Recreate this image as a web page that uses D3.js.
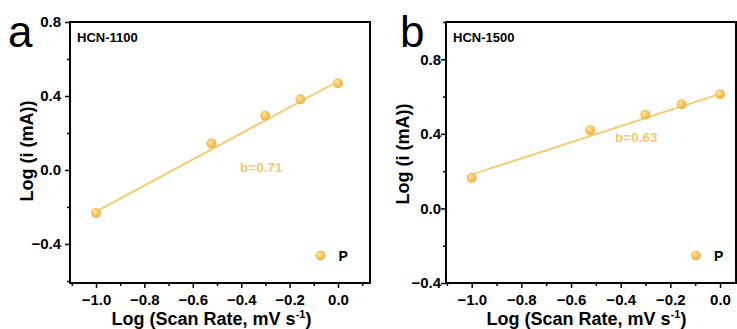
<!DOCTYPE html>
<html>
<head>
<meta charset="utf-8">
<script src="https://cdn.jsdelivr.net/npm/d3@7"></script>
<style>
  body { margin: 0; background: #fff; }
  svg { display: block; }
  text { font-family: "Liberation Sans", Arial, sans-serif; }
</style>
</head>
<body>
<div id="chart"></div>
<script>
// datos
const logScanRate = [-1.0, -0.523, -0.301, -0.155, 0.0];
const logI1100 = [-0.232, 0.144, 0.294, 0.382, 0.469];
const logI1500 = [0.164, 0.420, 0.503, 0.559, 0.613];
// recta de ajuste: valor en x = -1 y en x = 0
const fitX = [-1.0, 0.0];
const fit1100 = [-0.225, 0.480];
const fit1500 = [0.182, 0.615];
const xTicks = [-1.0, -0.8, -0.6, -0.4, -0.2, 0.0];
const xMinor = [-1.1, -0.9, -0.7, -0.5, -0.3, -0.1, 0.1];
const yTicks = [-0.4, 0.0, 0.4, 0.8];
const yMinor1100 = [-0.6, -0.2, 0.2, 0.6];
const yMinor1500 = [-0.2, 0.2, 0.6, 1.0];

const orange = '#f7c25a';
const lineColor = '#f8c96c';
const fmt = d3.format('.1f');

const svg = d3.select('#chart')
  .append('svg')
  .attr('width', 737)
  .attr('height', 329);

// gradiente tipo esfera para los puntos
const grad = svg.append('defs').append('radialGradient')
  .attr('id', 'ball')
  .attr('cx', '40%').attr('cy', '38%').attr('r', '65%');
grad.append('stop').attr('offset', '0%').attr('stop-color', '#ffe9b4');
grad.append('stop').attr('offset', '45%').attr('stop-color', '#f9c761');
grad.append('stop').attr('offset', '100%').attr('stop-color', '#eeb144');

function drawPanel(p) {
  const x = d3.scaleLinear().domain(p.xDomain).range([p.left, p.right]);
  const y = d3.scaleLinear().domain(p.yDomain).range([p.bottom, p.top]);
  const g = svg.append('g');

  // eje X
  g.append('g')
    .attr('transform', `translate(0,${p.bottom})`)
    .call(d3.axisBottom(x).tickValues(xTicks).tickSize(5).tickPadding(6).tickFormat(fmt))
    .call(a => a.select('.domain').remove())
    .call(a => a.selectAll('line').attr('stroke', '#000').attr('stroke-width', 1.5))
    .call(a => a.selectAll('text')
      .attr('fill', '#000').style('font-size', '15px').style('font-weight', 'bold'));
  g.append('g')
    .attr('transform', `translate(0,${p.bottom})`)
    .call(d3.axisBottom(x).tickValues(xMinor).tickSize(3).tickFormat(''))
    .call(a => a.select('.domain').remove())
    .call(a => a.selectAll('line').attr('stroke', '#000').attr('stroke-width', 1.5));

  // eje Y
  g.append('g')
    .attr('transform', `translate(${p.left},0)`)
    .call(d3.axisLeft(y).tickValues(yTicks).tickSize(5).tickPadding(p.yPad).tickFormat(fmt))
    .call(a => a.select('.domain').remove())
    .call(a => a.selectAll('line').attr('stroke', '#000').attr('stroke-width', 1.5))
    .call(a => a.selectAll('text')
      .attr('fill', '#000').style('font-size', '15px').style('font-weight', 'bold'));
  g.append('g')
    .attr('transform', `translate(${p.left},0)`)
    .call(d3.axisLeft(y).tickValues(p.yMinor).tickSize(3).tickFormat(''))
    .call(a => a.select('.domain').remove())
    .call(a => a.selectAll('line').attr('stroke', '#000').attr('stroke-width', 1.5));

  // marco
  g.append('rect')
    .attr('x', p.left).attr('y', p.top)
    .attr('width', p.right - p.left).attr('height', p.bottom - p.top)
    .attr('fill', 'none').attr('stroke', '#000').attr('stroke-width', 2);

  // recta de ajuste
  g.append('path')
    .datum(fitX.map((d, i) => [d, p.fit[i]]))
    .attr('d', d3.line().x(d => x(d[0])).y(d => y(d[1])))
    .attr('fill', 'none').attr('stroke', lineColor).attr('stroke-width', 1.8);

  // puntos
  g.selectAll('.pt')
    .data(logScanRate.map((d, i) => [d, p.values[i]]))
    .enter().append('circle')
    .attr('class', 'pt')
    .attr('cx', d => x(d[0])).attr('cy', d => y(d[1]))
    .attr('r', 5)
    .attr('fill', 'url(#ball)');

  // textos
  g.append('text')
    .attr('x', p.labelX).attr('y', 47)
    .style('font-size', '44px')
    .text(p.letter);
  g.append('text')
    .attr('x', p.left + 7).attr('y', 42)
    .style('font-size', '13px').style('font-weight', 'bold')
    .text(p.name);
  g.append('text')
    .attr('x', p.bX).attr('y', p.bY)
    .attr('fill', lineColor)
    .style('font-size', '13.5px').style('font-weight', 'bold')
    .text(p.bText);

  // leyenda
  g.append('circle')
    .attr('cx', p.legX).attr('cy', 255.5).attr('r', 5)
    .attr('fill', 'url(#ball)');
  g.append('text')
    .attr('x', p.legX + 18).attr('y', 260.5)
    .style('font-size', '14px').style('font-weight', 'bold')
    .text('P');

  // titulo eje X
  const xt = g.append('text')
    .attr('x', (p.left + p.right) / 2 + p.xTitleShift).attr('y', 325)
    .attr('text-anchor', 'middle')
    .style('font-size', '18px').style('font-weight', 'bold');
  xt.append('tspan').text('Log (Scan Rate, mV s');
  xt.append('tspan').attr('dy', -7).style('font-size', '11px').text('-1');
  xt.append('tspan').attr('dy', 7).text(')');

  // titulo eje Y
  g.append('text')
    .attr('transform', `translate(${p.yTitleX},${p.yTitleY}) rotate(-90)`)
    .attr('text-anchor', 'middle')
    .style('font-size', '18px').style('font-weight', 'bold')
    .text('Log (i (mA))');
}

drawPanel({
  left: 70, right: 370, top: 22, bottom: 283,
  xDomain: [-1.1074, 0.1322], yDomain: [-0.611, 0.8],
  values: logI1100, fit: fit1100, yMinor: yMinor1100, yPad: 4,
  letter: 'a', labelX: 8, name: 'HCN-1100',
  bText: 'b=0.71', bX: 240, bY: 172,
  legX: 320.5, xTitleShift: -8.5, yTitleX: 33, yTitleY: 151
});

drawPanel({
  left: 446, right: 736, top: 22, bottom: 283,
  xDomain: [-1.1035, 0.0644], yDomain: [-0.4, 1.0],
  values: logI1500, fit: fit1500, yMinor: yMinor1500, yPad: 0,
  letter: 'b', labelX: 400, name: 'HCN-1500',
  bText: 'b=0.63', bX: 615, bY: 142,
  legX: 696, xTitleShift: -4.5, yTitleX: 409, yTitleY: 154
});
</script>
</body>
</html>
